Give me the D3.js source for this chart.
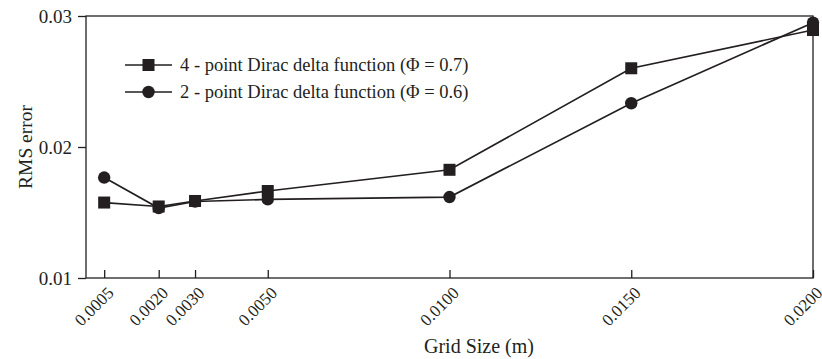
<!DOCTYPE html>
<html>
<head>
<meta charset="utf-8">
<script src="https://cdn.jsdelivr.net/npm/d3@7/dist/d3.min.js"></script>
<style>
  body { margin: 0; background: #fff; }
  svg text { font-family: "Liberation Serif", "Times New Roman", serif; fill: #231f20; }
</style>
</head>
<body>
<div id="chart"></div>
<script>
const gridSizes = [0.0005, 0.0020, 0.0030, 0.0050, 0.0100, 0.0150, 0.0200];
const tickLabels = ['0.0005', '0.0020', '0.0030', '0.0050', '0.0100', '0.0150', '0.0200'];
const fourPoint = [0.01576, 0.01546, 0.01588, 0.01664, 0.01826, 0.02601, 0.02893];
const twoPoint = [0.01767, 0.01534, 0.01584, 0.01600, 0.01618, 0.02334, 0.02949];
const yTicks = [0.01, 0.02, 0.03];
const seriesNames = ['4 - point Dirac delta function (\u03A6 = 0.7)', '2 - point Dirac delta function (\u03A6 = 0.6)'];

const ink = '#231f20';
const W = 822, H = 359;
const margin = { top: 16, right: 9, bottom: 81, left: 86 };
const width = W - margin.left - margin.right;
const height = H - margin.top - margin.bottom;

const svg = d3.select('#chart').append('svg')
  .attr('width', W)
  .attr('height', H)
  .append('g')
  .attr('transform', 'translate(' + margin.left + ',' + margin.top + ')');

const x = d3.scaleLinear().domain([0, 0.02]).range([0, width]);
const y = d3.scaleLinear().domain([0.01, 0.03]).range([height, 0]);

// frame
svg.append('rect')
  .attr('x', 0).attr('y', 0)
  .attr('width', width).attr('height', height)
  .attr('fill', 'none')
  .attr('stroke', ink)
  .attr('stroke-width', 1.3);

// x axis, ticks pointing inward
const xAxis = svg.append('g')
  .attr('transform', 'translate(0,' + height + ')')
  .call(d3.axisBottom(x).tickValues(gridSizes).tickSizeInner(-8).tickSizeOuter(0)
    .tickFormat((d, i) => tickLabels[i]));
xAxis.select('.domain').remove();
xAxis.selectAll('line').attr('stroke', ink).attr('stroke-width', 1.3);
xAxis.selectAll('text')
  .attr('font-size', 17)
  .attr('text-anchor', 'end')
  .attr('dy', 0)
  .attr('transform', 'translate(10,16) rotate(-45)')
  .attr('y', 0)
  .attr('x', 0);

// y axis, ticks outward
const yAxis = svg.append('g')
  .call(d3.axisLeft(y).tickValues(yTicks).tickSizeInner(8).tickSizeOuter(0).tickPadding(6)
    .tickFormat(d3.format('.2f')));
yAxis.select('.domain').remove();
yAxis.selectAll('line').attr('stroke', ink).attr('stroke-width', 1.3);
yAxis.selectAll('text').attr('font-size', 19);

// axis titles
svg.append('text')
  .attr('x', 479 - margin.left)
  .attr('y', 353 - margin.top)
  .attr('text-anchor', 'middle')
  .attr('font-size', 20)
  .text('Grid Size (m)');
svg.append('text')
  .attr('transform', 'rotate(-90)')
  .attr('x', -y(0.02))
  .attr('y', 32 - margin.left)
  .attr('text-anchor', 'middle')
  .attr('font-size', 19.5)
  .text('RMS error');

const line = d3.line()
  .x((d, i) => x(gridSizes[i]))
  .y(d => y(d));

const drawSeries = (values, shape) => {
  svg.append('path')
    .datum(values)
    .attr('d', line)
    .attr('fill', 'none')
    .attr('stroke', ink)
    .attr('stroke-width', 1.7);
  if (shape === 'square') {
    svg.selectAll(null).data(values).enter().append('rect')
      .attr('x', (d, i) => x(gridSizes[i]) - 6)
      .attr('y', d => y(d) - 6)
      .attr('width', 12).attr('height', 12)
      .attr('fill', ink);
  } else {
    svg.selectAll(null).data(values).enter().append('circle')
      .attr('cx', (d, i) => x(gridSizes[i]))
      .attr('cy', d => y(d))
      .attr('r', 6.2)
      .attr('fill', ink);
  }
};

drawSeries(fourPoint, 'square');
drawSeries(twoPoint, 'circle');

// legend
const legend = svg.append('g').attr('transform', 'translate(' + (125 - margin.left) + ',' + (65 - margin.top) + ')');
seriesNames.forEach((name, i) => {
  const ly = i * 27;
  legend.append('line')
    .attr('x1', 0).attr('x2', 47)
    .attr('y1', ly).attr('y2', ly)
    .attr('stroke', ink).attr('stroke-width', 1.7);
  if (i === 0) {
    legend.append('rect')
      .attr('x', 23.5 - 6).attr('y', ly - 6)
      .attr('width', 12).attr('height', 12)
      .attr('fill', ink);
  } else {
    legend.append('circle')
      .attr('cx', 23.5).attr('cy', ly).attr('r', 6.2)
      .attr('fill', ink);
  }
  legend.append('text')
    .attr('x', 55).attr('y', ly)
    .attr('dominant-baseline', 'central')
    .attr('font-size', 18.5)
    .text(name);
});
</script>
</body>
</html>
